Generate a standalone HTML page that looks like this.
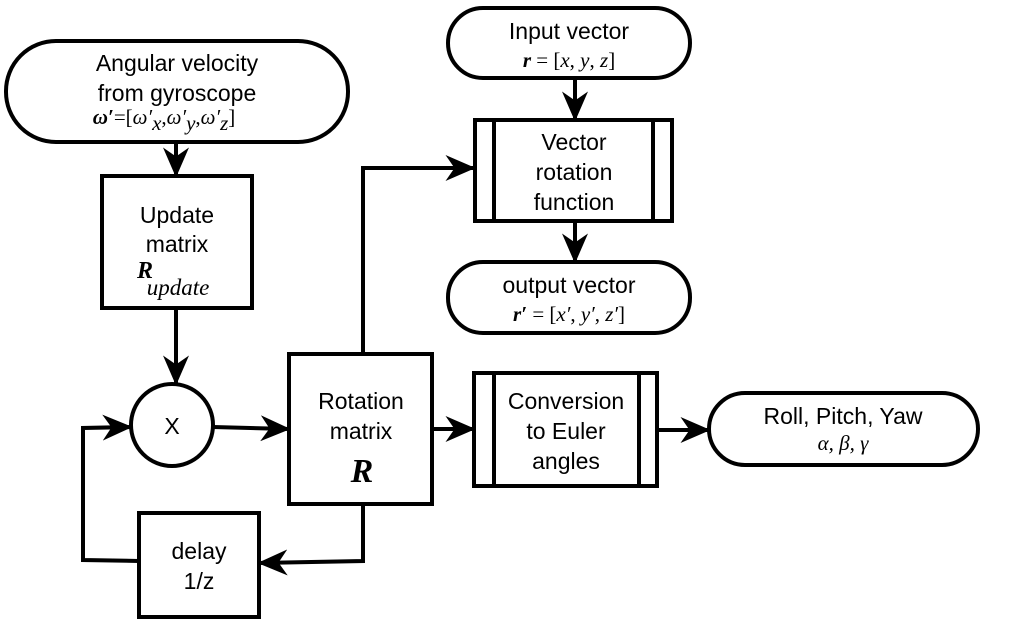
<!DOCTYPE html>
<html><head><meta charset="utf-8"><style>
html,body{margin:0;padding:0;background:#fff}
svg text{font-family:"Liberation Sans",sans-serif;font-size:23px;fill:#000}
svg text.m{font-family:"Liberation Serif",serif;font-size:21px}
</style></head><body>
<svg width="1024" height="627" viewBox="0 0 1024 627" xmlns="http://www.w3.org/2000/svg">
<defs>
<marker id="b" viewBox="0 0 10 10" refX="9.5" refY="5" markerWidth="30" markerHeight="26" markerUnits="userSpaceOnUse" orient="auto" preserveAspectRatio="none"><path d="M0,0 L10,5 L0,10 L3,5 z" fill="#000"/></marker></defs>
<g fill="none" stroke="#000" stroke-width="4">
<rect x="6" y="41" width="342" height="101" rx="50"/>
<rect x="102" y="176" width="150" height="132"/>
<circle cx="172" cy="425" r="41"/>
<rect x="289" y="354" width="143" height="150"/>
<rect x="139" y="513" width="120" height="104"/>
<rect x="448" y="8" width="242" height="70" rx="35"/>
<rect x="475" y="120" width="197" height="101"/><line x1="494" y1="120" x2="494" y2="221"/><line x1="653" y1="120" x2="653" y2="221"/>
<rect x="448" y="262" width="242" height="71" rx="35"/>
<rect x="474" y="373" width="183" height="113"/><line x1="494" y1="373" x2="494" y2="486"/><line x1="639" y1="373" x2="639" y2="486"/>
<rect x="709" y="393" width="269" height="72" rx="36"/>
<g marker-end="url(#b)">
<line x1="176" y1="142" x2="176" y2="176"/>
<line x1="176" y1="308" x2="176" y2="384"/>
<line x1="213" y1="427" x2="289" y2="429"/>
<polyline points="363,354 363,168 474,168"/>
<line x1="575" y1="78" x2="575" y2="120"/>
<line x1="575" y1="221" x2="575" y2="262"/>
<line x1="432" y1="429" x2="474" y2="429"/>
<line x1="657" y1="430" x2="709" y2="430"/>
<polyline points="363,504 363,561 259,563"/>
<polyline points="139,561 83,560 83,428 131,427"/>
</g></g>
<g text-anchor="middle">
<text x="177" y="71">Angular velocity</text>
<text x="177" y="101">from gyroscope</text>
<text x="164" y="124" class="m"><tspan font-weight="bold" font-style="italic">ω′</tspan>=[<tspan font-style="italic">ω′</tspan><tspan font-style="italic" dy="6">x</tspan><tspan dy="-6">,</tspan><tspan font-style="italic">ω′</tspan><tspan font-style="italic" dy="6">y</tspan><tspan dy="-6">,</tspan><tspan font-style="italic">ω′</tspan><tspan font-style="italic" dy="6">z</tspan><tspan dy="-6">]</tspan></text>
<text x="177" y="223">Update</text>
<text x="177" y="252">matrix</text>
<text x="145" y="278" class="m" style="font-weight:bold;font-style:italic;font-size:24px">R</text>
<text x="178" y="295" class="m" style="font-style:italic;font-size:23px">update</text>
<text x="172" y="434">X</text>
<text x="361" y="409">Rotation</text>
<text x="361" y="439">matrix</text>
<text x="362" y="482" class="m" style="font-weight:bold;font-style:italic;font-size:34px">R</text>
<text x="199" y="559">delay</text>
<text x="199" y="589">1/z</text>
<text x="569" y="39">Input vector</text>
<text x="569" y="67" class="m"><tspan font-weight="bold" font-style="italic">r</tspan> = [<tspan font-style="italic">x</tspan>, <tspan font-style="italic">y</tspan>, <tspan font-style="italic">z</tspan>]</text>
<text x="574" y="150">Vector</text>
<text x="574" y="180">rotation</text>
<text x="574" y="210">function</text>
<text x="569" y="293">output vector</text>
<text x="569" y="321" class="m"><tspan font-weight="bold" font-style="italic">r′</tspan> = [<tspan font-style="italic">x′</tspan>, <tspan font-style="italic">y′</tspan>, <tspan font-style="italic">z′</tspan>]</text>
<text x="566" y="409">Conversion</text>
<text x="566" y="439">to Euler</text>
<text x="566" y="469">angles</text>
<text x="843" y="424">Roll, Pitch, Yaw</text>
<text x="843" y="450" class="m" style="font-style:italic">α, β, γ</text>
</g>
</svg>
</body></html>
